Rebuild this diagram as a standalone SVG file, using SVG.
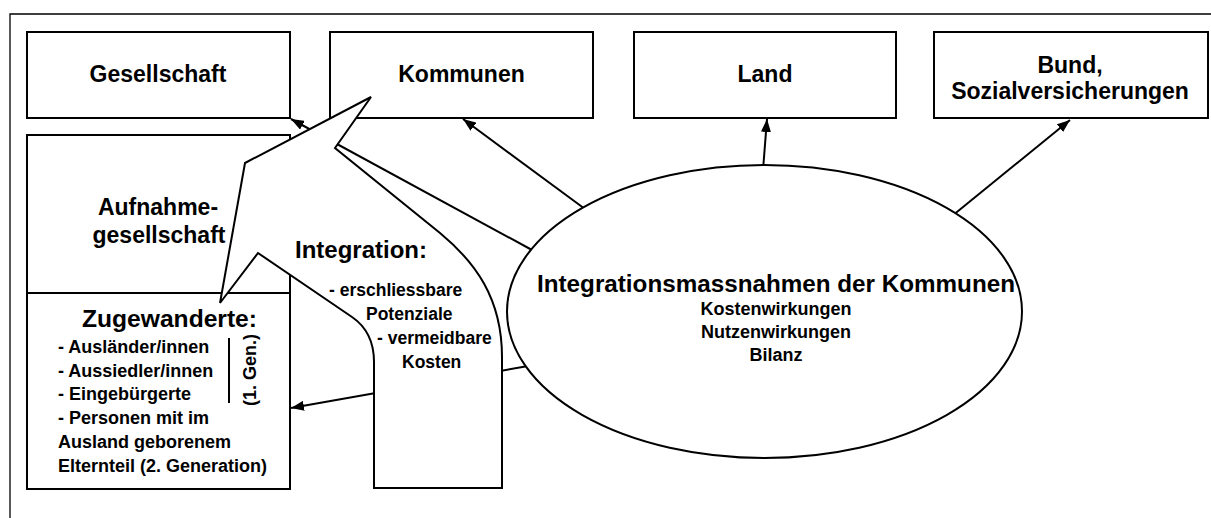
<svg xmlns="http://www.w3.org/2000/svg" width="1211" height="518" viewBox="0 0 1211 518">
<style>
.box{fill:#fff;stroke:#000;stroke-width:2}
.frame{fill:none;stroke:#000;stroke-width:1.3}
.con{stroke:#000;stroke-width:2;fill:none}
.t{font-family:"Liberation Sans",Arial,sans-serif;font-weight:bold;fill:#000}
.lg{font-size:23px}
.md{font-size:18px}
.sm{font-size:17.5px}
.c{text-anchor:middle}
</style>
<defs>
<marker id="ah" viewBox="0 0 13 10" refX="13" refY="5" markerWidth="13" markerHeight="10" markerUnits="userSpaceOnUse" orient="auto">
<path d="M0,0 L13,5 L0,10 z" fill="#000"/>
</marker>
</defs>
<rect width="1211" height="518" fill="#fff"/>
<path class="frame" d="M10,518 L10,14 L1211,14"/>

<g id="gesellschaft"><rect class="box" x="27" y="32" width="263" height="86"/></g>
<g id="kommunen"><rect class="box" x="330" y="32" width="263" height="86"/></g>
<g id="land"><rect class="box" x="634" y="32" width="262" height="86"/></g>
<g id="bund"><rect class="box" x="934" y="32" width="274" height="86"/></g>
<g id="aufnahmegesellschaft"><rect class="box" x="27" y="135" width="263" height="158"/></g>
<g id="zugewanderte"><rect class="box" x="27" y="293" width="263" height="196"/>
<line x1="229" y1="338" x2="229" y2="403" stroke="#000" stroke-width="2"/></g>

<g id="connectors">
<line class="con" x1="532" y1="250" x2="291" y2="119" marker-end="url(#ah)"/>
<line class="con" x1="585" y1="209" x2="463" y2="119" marker-end="url(#ah)"/>
<line class="con" x1="763" y1="170" x2="767" y2="119" marker-end="url(#ah)"/>
<line class="con" x1="952" y1="216" x2="1070" y2="120" marker-end="url(#ah)"/>
<line class="con" x1="534" y1="365" x2="291" y2="408" marker-end="url(#ah)"/>
</g>

<g id="massnahmen"><ellipse cx="764.5" cy="311.5" rx="257.5" ry="146.5" fill="#fff" stroke="#000" stroke-width="2"/></g>

<g id="integration">
<path d="M371,97 L245,163 L220,303 L258,253 L352,317 Q374,332 374,362 L374,488 L502,488 L502,357 C502,298 475,262 440,233 L335,148 Z" fill="#fff" stroke="#000" stroke-width="2" stroke-linejoin="miter"/>
</g>

<g id="labels">
<text class="t lg c" x="158" y="82">Gesellschaft</text>
<text class="t lg c" x="461.5" y="82">Kommunen</text>
<text class="t lg c" x="765" y="82">Land</text>
<text class="t lg c" x="1070" y="73">Bund,</text>
<text class="t lg c" x="1070" y="99">Sozialversicherungen</text>
<text class="t lg c" x="158" y="215">Aufnahme-</text>
<text class="t lg c" x="159" y="243">gesellschaft</text>
<text class="t" x="82" y="327" font-size="24" textLength="175" lengthAdjust="spacingAndGlyphs">Zugewanderte:</text>
<text class="t md" x="58" y="353">- Ausländer/innen</text>
<text class="t md" x="58" y="377">- Aussiedler/innen</text>
<text class="t md" x="58" y="400">- Eingebürgerte</text>
<text class="t md" x="58" y="424">- Personen mit im</text>
<text class="t md" x="58" y="448">Ausland geborenem</text>
<text class="t md" x="58" y="472">Elternteil (2. Generation)</text>
<text class="t md c" transform="translate(256,370) rotate(-90)">(1. Gen.)</text>
<text class="t" x="295" y="258" font-size="24">Integration:</text>
<text class="t sm" x="329" y="296">- erschliessbare</text>
<text class="t sm" x="366" y="320">Potenziale</text>
<text class="t sm" x="377" y="344">- vermeidbare</text>
<text class="t sm" x="402" y="368">Kosten</text>
<text class="t c" x="776" y="292" font-size="23.5" textLength="478" lengthAdjust="spacingAndGlyphs">Integrationsmassnahmen der Kommunen</text>
<text class="t md c" x="776" y="315">Kostenwirkungen</text>
<text class="t md c" x="776" y="338">Nutzenwirkungen</text>
<text class="t md c" x="776" y="361">Bilanz</text>
</g>
</svg>
